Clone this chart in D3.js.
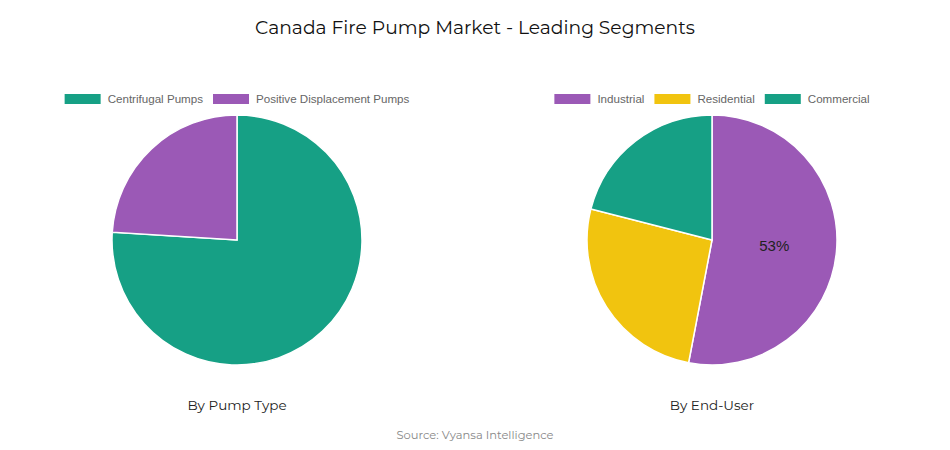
<!DOCTYPE html>
<html>
<head>
<meta charset="utf-8">
<script src="https://cdn.jsdelivr.net/npm/d3@7/dist/d3.min.js"></script>
<style>
  html, body { margin: 0; padding: 0; background: #ffffff; }
  svg { display: block; }
</style>
</head>
<body>
<svg id="chart" width="950" height="450"></svg>
<script>
// ---- data ----
const titleText = "Canada Fire Pump Market - Leading Segments";
const sourceText = "Source: Vyansa Intelligence";

const pumpCategories = ["Centrifugal Pumps", "Positive Displacement Pumps"];
const pumpValues = [76, 24];
const pumpColors = ["#16a085", "#9b59b6"];
const pumpShowLabel = [false, false];
const pumpSubtitle = "By Pump Type";

const userCategories = ["Industrial", "Residential", "Commercial"];
const userValues = [53, 26, 21];
const userColors = ["#9b59b6", "#f1c40f", "#16a085"];
const userShowLabel = [true, false, false];
const userSubtitle = "By End-User";

// ---- drawing ----
const svg = d3.select("#chart");
const headFont = "Montserrat, 'Noto Sans', 'Open Sans', sans-serif";
const bodyFont = "'Liberation Sans', Arial, sans-serif";

svg.append("text")
  .attr("x", 475).attr("y", 34)
  .attr("text-anchor", "middle")
  .attr("font-family", headFont)
  .attr("font-size", 18.7)
  .attr("fill", "#111")
  .text(titleText);

svg.append("text")
  .attr("x", 475).attr("y", 439)
  .attr("text-anchor", "middle")
  .attr("font-family", headFont)
  .attr("font-size", 11.5)
  .attr("fill", "#888")
  .text(sourceText);

function drawPie(cx, categories, values, colors, showLabel, subtitle) {
  const cy = 240, r = 125;
  const data = categories.map((c, i) => ({ name: c, value: values[i], color: colors[i], show: showLabel[i] }));
  const pie = d3.pie().value(d => d.value).sort(null);
  const arc = d3.arc().innerRadius(0).outerRadius(r);
  const labelArc = d3.arc().innerRadius(r * 0.5).outerRadius(r * 0.5);
  const total = d3.sum(values);

  const g = svg.append("g").attr("transform", `translate(${cx},${cy})`);
  const arcs = pie(data);
  g.selectAll("path").data(arcs).join("path")
    .attr("d", arc)
    .attr("fill", d => d.data.color)
    .attr("stroke", "#fff")
    .attr("stroke-width", 1.5);

  g.selectAll("text.lbl").data(arcs.filter(d => d.data.show)).join("text")
    .attr("class", "lbl")
    .attr("transform", d => `translate(${labelArc.centroid(d)})`)
    .attr("text-anchor", "middle")
    .attr("dy", "0.35em")
    .attr("font-family", bodyFont)
    .attr("font-size", 15)
    .attr("fill", "#222")
    .text(d => Math.round(d.data.value / total * 100) + "%");

  // legend
  const sw = 36, sh = 10, gapText = 7, gapItem = 10;
  const legend = svg.append("g");
  const items = legend.selectAll("g").data(data).join("g");
  items.append("rect").attr("width", sw).attr("height", sh).attr("fill", d => d.color);
  const texts = items.append("text")
    .attr("x", sw + gapText).attr("y", sh / 2).attr("dy", "0.35em")
    .attr("font-family", bodyFont).attr("font-size", 11.6).attr("fill", "#666")
    .text(d => d.name);
  let x = 0;
  items.each(function(d, i) {
    const tw = texts.nodes()[i].getComputedTextLength();
    d3.select(this).attr("transform", `translate(${x},0)`);
    x += sw + gapText + tw + gapItem;
  });
  const totalW = x - gapItem;
  legend.attr("transform", `translate(${cx - totalW / 2},${94})`);

  svg.append("text")
    .attr("x", cx).attr("y", 410)
    .attr("text-anchor", "middle")
    .attr("font-family", headFont)
    .attr("font-size", 13.5)
    .attr("fill", "#222")
    .text(subtitle);
}

drawPie(237, pumpCategories, pumpValues, pumpColors, pumpShowLabel, pumpSubtitle);
drawPie(712, userCategories, userValues, userColors, userShowLabel, userSubtitle);
</script>
</body>
</html>
